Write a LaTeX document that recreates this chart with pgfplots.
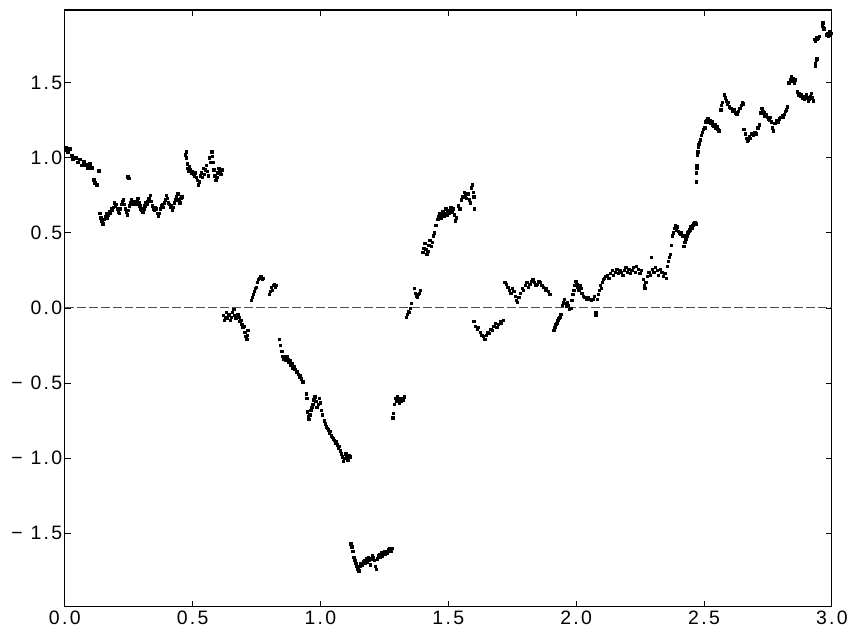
\documentclass[border=0pt]{standalone}
\usepackage{pgfplots}
\pgfplotsset{compat=1.18}
\usepackage{fontspec}
\setmainfont{Liberation Sans}
\newfontfamily\tickfam[LetterSpace=12]{Liberation Sans}
\newcommand{\tickfont}{\tickfam\fontsize{19.5}{21}\selectfont}
\begin{document}
\begin{tikzpicture}
\begin{axis}[
  scale only axis,
  width=770pt, height=599pt,
  xmin=0, xmax=3, ymin=-1.99, ymax=1.985,
  axis line style={line width=1.3pt},
  tick align=inside,
  major tick length=6pt,
  tick style={line width=0.8pt, black},
  xtick={0,0.5,1,1.5,2,2.5,3},
  xticklabels={0.0,0.5,1.0,1.5,2.0,2.5,3.0},
  ytick={-1.5,-1,-0.5,0,0.5,1,1.5},
  yticklabels={− 1.5,− 1.0,− 0.5,0.0,0.5,1.0,1.5},
  tick label style={font=\tickfont},
  xticklabel style={yshift=-1pt},
  yticklabel style={xshift=1pt},
  clip=true,
]
\addplot[black!70, line width=1pt, dash pattern=on 9pt off 3pt] coordinates {(0,0) (3,0)};
\addplot[only marks, mark=square*, mark size=1.2pt, black] table {
x y
0.004 1.068
0.008 1.055
0.012 1.04
0.020 1.06
0.027 1.015
0.031 0.99
0.043 1.0
0.051 0.97
0.059 0.99
0.066 0.95
0.074 0.975
0.082 0.955
0.090 0.935
0.098 0.96
0.105 0.935
0.113 0.855
0.117 0.835
0.125 0.82
0.133 0.915
0.246 0.875
0.250 0.865
0.137 0.63
0.141 0.6
0.145 0.58
0.149 0.56
0.153 0.59
0.157 0.61
0.161 0.63
0.165 0.60
0.169 0.62
0.173 0.645
0.177 0.63
0.181 0.66
0.185 0.65
0.189 0.67
0.193 0.7
0.197 0.68
0.201 0.69
0.205 0.66
0.209 0.64
0.213 0.63
0.217 0.66
0.221 0.69
0.225 0.71
0.229 0.72
0.233 0.69
0.237 0.66
0.241 0.64
0.245 0.62
0.249 0.65
0.253 0.68
0.257 0.7
0.261 0.72
0.265 0.69
0.269 0.71
0.273 0.7
0.277 0.69
0.281 0.71
0.285 0.73
0.289 0.70
0.293 0.68
0.297 0.66
0.301 0.65
0.305 0.64
0.309 0.66
0.313 0.68
0.317 0.7
0.321 0.69
0.325 0.71
0.329 0.73
0.333 0.75
0.337 0.71
0.341 0.68
0.345 0.66
0.349 0.65
0.353 0.67
0.357 0.66
0.361 0.63
0.365 0.61
0.369 0.63
0.373 0.66
0.377 0.68
0.381 0.69
0.385 0.67
0.389 0.7
0.393 0.72
0.397 0.75
0.401 0.73
0.405 0.70
0.409 0.69
0.413 0.67
0.417 0.68
0.421 0.65
0.425 0.67
0.429 0.70
0.433 0.72
0.437 0.74
0.441 0.76
0.445 0.72
0.449 0.70
0.453 0.73
0.457 0.74
0.472 1.02
0.474 1.04
0.476 1.0
0.478 0.96
0.480 0.93
0.482 0.91
0.486 0.94
0.490 0.92
0.494 0.9
0.498 0.91
0.502 0.89
0.506 0.88
0.510 0.9
0.514 0.87
0.518 0.85
0.522 0.82
0.526 0.84
0.530 0.88
0.534 0.9
0.538 0.87
0.542 0.93
0.546 0.89
0.550 0.92
0.554 0.95
0.558 0.91
0.562 0.88
0.566 1.0
0.570 0.97
0.574 1.04
0.576 1.01
0.578 0.97
0.582 0.92
0.586 0.88
0.590 0.85
0.594 0.87
0.598 0.9
0.602 0.93
0.606 0.91
0.610 0.89
0.614 0.92
0.620 -0.05
0.624 -0.08
0.628 -0.06
0.632 -0.03
0.636 -0.07
0.640 -0.05
0.644 -0.04
0.648 -0.08
0.652 -0.06
0.656 -0.03
0.660 -0.01
0.664 -0.05
0.668 -0.07
0.672 -0.05
0.676 -0.04
0.680 -0.06
0.684 -0.09
0.688 -0.08
0.692 -0.11
0.696 -0.13
0.700 -0.12
0.704 -0.16
0.708 -0.19
0.712 -0.21
0.714 -0.18
0.716 -0.15
0.728 0.05
0.732 0.07
0.736 0.09
0.740 0.11
0.744 0.13
0.748 0.14
0.752 0.17
0.756 0.19
0.760 0.2
0.764 0.21
0.768 0.21
0.772 0.19
0.776 0.2
0.800 0.09
0.804 0.11
0.808 0.14
0.812 0.12
0.816 0.15
0.820 0.16
0.824 0.14
0.828 0.15
0.839 -0.21
0.843 -0.25
0.848 -0.29
0.852 -0.32
0.856 -0.34
0.860 -0.33
0.864 -0.35
0.868 -0.32
0.872 -0.34
0.876 -0.36
0.880 -0.35
0.884 -0.38
0.888 -0.37
0.892 -0.4
0.896 -0.39
0.900 -0.41
0.904 -0.43
0.908 -0.42
0.912 -0.44
0.916 -0.46
0.920 -0.45
0.924 -0.47
0.930 -0.49
0.944 -0.57
0.946 -0.6
0.948 -0.69
0.951 -0.72
0.954 -0.74
0.958 -0.71
0.962 -0.68
0.966 -0.66
0.970 -0.64
0.974 -0.61
0.978 -0.59
0.982 -0.62
0.986 -0.66
0.990 -0.64
0.994 -0.6
0.998 -0.63
1.004 -0.68
1.008 -0.71
1.014 -0.75
1.018 -0.77
1.022 -0.79
1.026 -0.8
1.030 -0.81
1.034 -0.83
1.038 -0.82
1.042 -0.85
1.046 -0.86
1.050 -0.87
1.054 -0.88
1.058 -0.9
1.062 -0.89
1.066 -0.91
1.070 -0.93
1.074 -0.92
1.078 -0.95
1.082 -0.97
1.086 -0.99
1.090 -1.02
1.094 -1.0
1.098 -0.97
1.102 -0.99
1.106 -1.01
1.110 -0.98
1.114 -0.99
1.118 -1.57
1.122 -1.59
1.126 -1.62
1.130 -1.66
1.134 -1.68
1.138 -1.7
1.142 -1.72
1.146 -1.74
1.150 -1.75
1.154 -1.72
1.158 -1.7
1.162 -1.71
1.166 -1.69
1.170 -1.68
1.174 -1.7
1.178 -1.67
1.182 -1.69
1.186 -1.66
1.190 -1.68
1.194 -1.71
1.198 -1.67
1.202 -1.65
1.206 -1.66
1.210 -1.68
1.214 -1.72
1.218 -1.74
1.222 -1.67
1.226 -1.65
1.230 -1.64
1.234 -1.66
1.238 -1.63
1.242 -1.65
1.246 -1.63
1.250 -1.62
1.254 -1.64
1.258 -1.62
1.262 -1.63
1.266 -1.61
1.270 -1.6
1.274 -1.62
1.278 -1.6
1.283 -0.73
1.285 -0.7
1.288 -0.64
1.292 -0.6
1.296 -0.62
1.300 -0.59
1.304 -0.61
1.308 -0.63
1.312 -0.6
1.316 -0.62
1.320 -0.6
1.324 -0.61
1.328 -0.59
1.336 -0.06
1.340 -0.04
1.344 -0.02
1.348 -0.03
1.352 0.0
1.356 0.03
1.366 0.13
1.370 0.1
1.374 0.08
1.378 0.07
1.382 0.09
1.386 0.1
1.390 0.12
1.400 0.37
1.404 0.4
1.408 0.43
1.412 0.39
1.416 0.36
1.420 0.38
1.424 0.42
1.428 0.45
1.432 0.41
1.436 0.44
1.440 0.48
1.444 0.5
1.450 0.55
1.458 0.59
1.462 0.61
1.466 0.63
1.470 0.6
1.474 0.62
1.478 0.64
1.482 0.61
1.486 0.63
1.490 0.66
1.494 0.62
1.498 0.64
1.502 0.63
1.506 0.65
1.510 0.67
1.514 0.64
1.518 0.66
1.522 0.62
1.526 0.58
1.530 0.6
1.538 0.68
1.544 0.66
1.550 0.72
1.556 0.74
1.562 0.77
1.566 0.75
1.570 0.73
1.576 0.76
1.582 0.72
1.586 0.7
1.590 0.8
1.594 0.82
1.598 0.77
1.600 0.74
1.602 0.66
1.600 -0.09
1.606 -0.12
1.612 -0.14
1.618 -0.13
1.624 -0.16
1.630 -0.18
1.636 -0.19
1.642 -0.21
1.648 -0.18
1.654 -0.16
1.660 -0.17
1.666 -0.14
1.672 -0.15
1.678 -0.12
1.684 -0.1
1.690 -0.13
1.696 -0.11
1.702 -0.09
1.708 -0.1
1.714 -0.08
1.720 0.17
1.726 0.16
1.732 0.14
1.738 0.12
1.744 0.1
1.750 0.13
1.756 0.11
1.762 0.08
1.766 0.05
1.770 0.04
1.776 0.07
1.782 0.1
1.788 0.13
1.794 0.12
1.800 0.15
1.806 0.17
1.812 0.14
1.818 0.16
1.824 0.18
1.830 0.19
1.836 0.17
1.842 0.15
1.848 0.16
1.854 0.18
1.860 0.17
1.866 0.15
1.872 0.14
1.878 0.12
1.884 0.13
1.890 0.11
1.896 0.09
1.912 -0.15
1.916 -0.13
1.920 -0.11
1.924 -0.1
1.928 -0.08
1.932 -0.07
1.936 -0.06
1.940 -0.04
1.946 0.02
1.950 0.04
1.954 0.06
1.958 0.03
1.962 0.01
1.966 0.04
1.970 0.02
1.974 -0.01
1.978 0.0
1.982 0.05
1.986 0.09
1.990 0.12
1.994 0.15
1.998 0.18
2.002 0.16
2.006 0.14
2.010 0.12
2.014 0.15
2.018 0.13
2.022 0.1
2.028 0.08
2.034 0.07
2.040 0.06
2.046 0.07
2.052 0.06
2.058 0.05
2.064 0.06
2.070 0.08
2.076 -0.03
2.077 -0.05
2.082 0.06
2.086 0.09
2.090 0.12
2.094 0.15
2.098 0.13
2.102 0.17
2.106 0.19
2.110 0.2
2.116 0.21
2.122 0.22
2.128 0.2
2.134 0.23
2.140 0.25
2.146 0.22
2.152 0.24
2.158 0.26
2.164 0.23
2.170 0.25
2.176 0.24
2.182 0.22
2.188 0.25
2.194 0.27
2.200 0.24
2.206 0.26
2.212 0.23
2.218 0.25
2.224 0.27
2.230 0.24
2.236 0.28
2.242 0.26
2.248 0.23
2.254 0.25
2.262 0.19
2.265 0.15
2.268 0.13
2.272 0.17
2.278 0.21
2.284 0.24
2.290 0.22
2.294 0.34
2.298 0.26
2.304 0.24
2.310 0.27
2.316 0.25
2.322 0.22
2.328 0.26
2.334 0.24
2.340 0.21
2.346 0.23
2.352 0.2
2.356 0.28
2.360 0.31
2.364 0.34
2.368 0.36
2.372 0.42
2.376 0.48
2.380 0.5
2.384 0.53
2.388 0.55
2.392 0.52
2.396 0.54
2.400 0.51
2.404 0.5
2.408 0.49
2.412 0.5
2.416 0.48
2.420 0.41
2.424 0.44
2.428 0.46
2.432 0.48
2.436 0.5
2.440 0.51
2.444 0.52
2.448 0.54
2.452 0.53
2.456 0.55
2.460 0.56
2.464 0.57
2.468 0.56
2.470 0.84
2.470 0.9
2.471 0.93
2.472 0.95
2.474 1.02
2.476 1.04
2.478 1.07
2.480 1.09
2.482 1.1
2.486 1.12
2.490 1.15
2.494 1.17
2.498 1.19
2.502 1.2
2.506 1.24
2.510 1.25
2.514 1.26
2.518 1.24
2.522 1.25
2.526 1.23
2.530 1.24
2.534 1.22
2.538 1.21
2.542 1.22
2.546 1.2
2.550 1.21
2.554 1.19
2.558 1.18
2.565 1.32
2.568 1.35
2.572 1.37
2.578 1.42
2.582 1.4
2.586 1.38
2.590 1.36
2.594 1.37
2.598 1.34
2.604 1.33
2.610 1.31
2.616 1.32
2.622 1.3
2.628 1.29
2.634 1.31
2.640 1.33
2.645 1.35
2.650 1.37
2.654 1.36
2.656 1.19
2.660 1.16
2.664 1.13
2.668 1.11
2.672 1.12
2.676 1.14
2.680 1.13
2.686 1.16
2.692 1.15
2.698 1.17
2.704 1.16
2.710 1.2
2.716 1.22
2.722 1.3
2.726 1.33
2.730 1.31
2.734 1.3
2.738 1.28
2.742 1.29
2.746 1.27
2.750 1.26
2.754 1.25
2.758 1.27
2.762 1.24
2.766 1.2
2.770 1.18
2.776 1.23
2.782 1.25
2.788 1.24
2.794 1.26
2.800 1.27
2.806 1.28
2.810 1.27
2.814 1.29
2.818 1.31
2.822 1.32
2.826 1.34
2.832 1.5
2.836 1.52
2.840 1.54
2.844 1.51
2.848 1.53
2.852 1.5
2.856 1.52
2.864 1.44
2.868 1.42
2.872 1.43
2.876 1.41
2.880 1.42
2.884 1.4
2.888 1.41
2.892 1.39
2.896 1.4
2.900 1.42
2.904 1.4
2.908 1.38
2.912 1.39
2.916 1.41
2.920 1.43
2.924 1.4
2.928 1.38
2.934 1.61
2.936 1.63
2.938 1.65
2.940 1.66
2.930 1.79
2.934 1.78
2.938 1.8
2.942 1.79
2.946 1.8
2.950 1.81
2.962 1.88
2.964 1.9
2.966 1.87
2.968 1.86
2.978 1.82
2.982 1.83
2.986 1.81
2.990 1.84
2.994 1.82
2.998 1.83
};
\end{axis}
\path ([xshift=-65pt,yshift=-25pt]current axis.south west) rectangle ([xshift=16pt,yshift=10pt]current axis.north east);
\end{tikzpicture}
\end{document}
